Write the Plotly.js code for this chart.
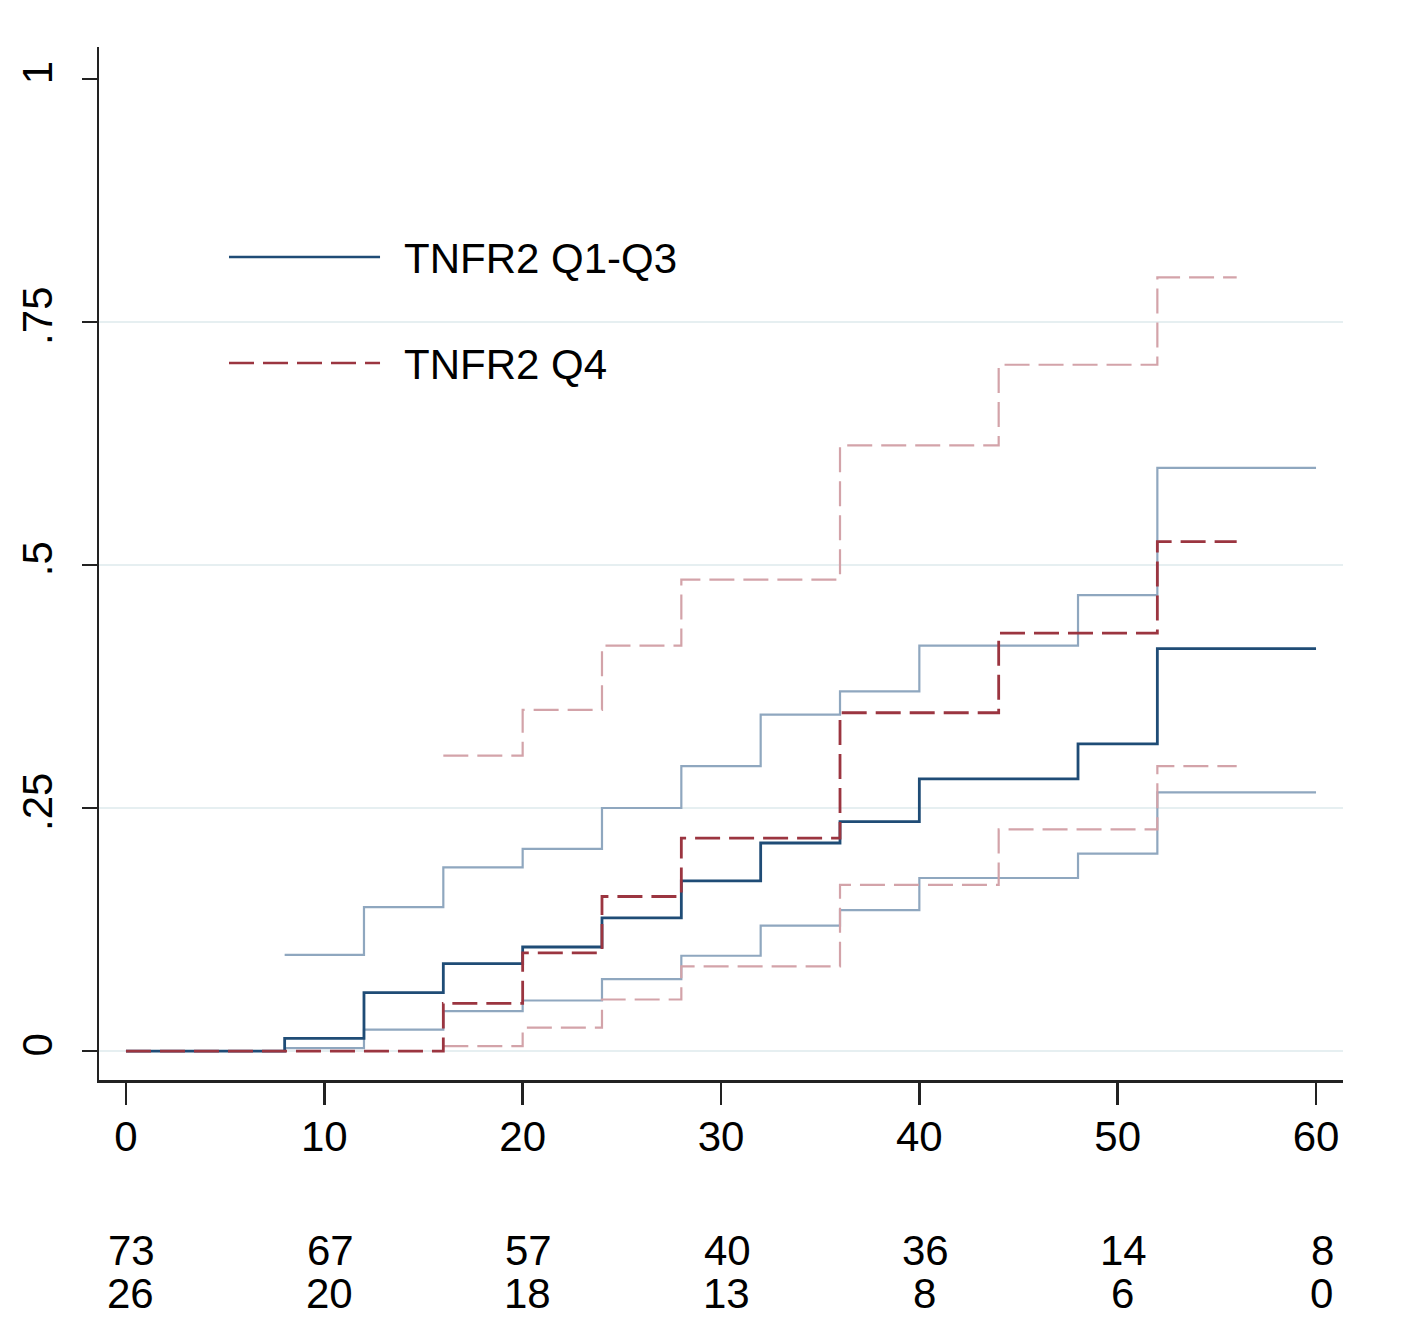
<!DOCTYPE html>
<html>
<head>
<meta charset="utf-8">
<script src="https://cdn.plot.ly/plotly-3.0.1.min.js"></script>
<style>
  html, body { margin: 0; padding: 0; background: #fff; }
  #chart { width: 1416px; height: 1319px; }
</style>
</head>
<body>
<div id="chart"></div>
<script>
// ---- Data ----
const q13Times = [0, 8, 12, 16, 20, 24, 28, 32, 36, 40, 48, 52, 60];
const q13Est   = [0, 0.013, 0.060, 0.090, 0.107, 0.137, 0.175, 0.214, 0.236, 0.280, 0.316, 0.414, 0.414];

const q13CiTimes = [8, 12, 16, 20, 24, 28, 32, 36, 40, 48, 52, 60];
const q13Upper   = [0.099, 0.148, 0.189, 0.208, 0.250, 0.293, 0.346, 0.370, 0.417, 0.469, 0.600, 0.600];
const q13Lower   = [0.003, 0.022, 0.041, 0.052, 0.074, 0.098, 0.129, 0.145, 0.178, 0.203, 0.266, 0.266];

const q4Times = [0, 16, 20, 24, 28, 36, 44, 52, 56];
const q4Est   = [0, 0.049, 0.101, 0.159, 0.219, 0.348, 0.430, 0.524, 0.524];

const q4CiTimes = [16, 20, 24, 28, 36, 44, 52, 56];
const q4Upper   = [0.304, 0.351, 0.417, 0.485, 0.623, 0.706, 0.796, 0.796];
const q4Lower   = [0.005, 0.024, 0.053, 0.087, 0.171, 0.228, 0.293, 0.293];

const xTickVals = [0, 10, 20, 30, 40, 50, 60];
const yTickVals = [0, 0.25, 0.5, 0.75, 1];
const yTickText = ['0', '.25', '.5', '.75', '1'];
const gridVals  = [0, 0.25, 0.5, 0.75];

const riskTimes = [0, 10, 20, 30, 40, 50, 60];
const riskQ13   = [73, 67, 57, 40, 36, 14, 8];
const riskQ4    = [26, 20, 18, 13, 8, 6, 0];

const seriesNames = ['TNFR2 Q1-Q3', 'TNFR2 Q4'];

// ---- Styles ----
const FONT = 'Liberation Sans, Arial, sans-serif';
const FS = 42;
const TXT = '#000';
const blueMain = '#1f4c76';
const blueCi   = '#8fa7bf';
const redMain  = '#9b3540';
const redCi    = '#d3a3a9';
const DASH = '25px,9px';

function step(x, y, color, width, dash) {
  return {
    x: x, y: y, type: 'scatter', mode: 'lines',
    line: { shape: 'hv', color: color, width: width, dash: dash || 'solid' },
    hoverinfo: 'skip', showlegend: false
  };
}

const traces = [
  step(q13CiTimes, q13Upper, blueCi, 2.2),
  step(q13CiTimes, q13Lower, blueCi, 2.2),
  step(q4CiTimes, q4Upper, redCi, 2.2, DASH),
  step(q4CiTimes, q4Lower, redCi, 2.2, DASH),
  step(q13Times, q13Est, blueMain, 2.8),
  step(q4Times, q4Est, redMain, 2.8, DASH)
];

const shapes = gridVals.map(v => ({
  type: 'line', xref: 'paper', yref: 'y', x0: 0, x1: 1, y0: v, y1: v,
  line: { color: '#e6eff1', width: 2 }, layer: 'below'
}));

// legend (drawn manually to match long sample lines)
const legY = [0.7967, 0.6941];
const legColors = [blueMain, redMain];
const legDash = ['solid', DASH];
legY.forEach((yy, i) => {
  shapes.push({
    type: 'line', xref: 'paper', yref: 'paper',
    x0: 0.1045, x1: 0.2259, y0: yy, y1: yy,
    line: { color: legColors[i], width: 2.6, dash: legDash[i] }
  });
});

const annotations = [];
seriesNames.forEach((name, i) => {
  annotations.push({
    xref: 'paper', yref: 'paper', x: 0.2435, y: legY[i] - 0.001,
    xanchor: 'left', yanchor: 'middle', showarrow: false,
    text: name, font: { family: FONT, size: FS, color: TXT }
  });
});
riskTimes.forEach((t, i) => {
  annotations.push({
    xref: 'x', yref: 'paper', x: t, y: -0.1655, xshift: 6,
    xanchor: 'center', yanchor: 'middle', showarrow: false,
    text: String(riskQ13[i]), font: { family: FONT, size: FS, color: TXT }
  });
  annotations.push({
    xref: 'x', yref: 'paper', x: t, y: -0.2062, xshift: 5,
    xanchor: 'center', yanchor: 'middle', showarrow: false,
    text: String(riskQ4[i]), font: { family: FONT, size: FS, color: TXT }
  });
});

const layout = {
  width: 1416, height: 1319,
  margin: { l: 99, r: 73, t: 47, b: 239, pad: 0 },
  paper_bgcolor: '#ffffff', plot_bgcolor: '#ffffff',
  showlegend: false,
  xaxis: {
    range: [-1.36, 61.36], tickvals: xTickVals, ticktext: xTickVals.map(String),
    showgrid: false, zeroline: false, showline: true, linecolor: '#222', linewidth: 2.5,
    ticks: 'outside', ticklen: 22, tickwidth: 2.5, tickcolor: '#222',
    tickfont: { family: FONT, size: FS, color: TXT }, ticklabelstandoff: -4
  },
  yaxis: {
    range: [-0.0298, 1.0329], tickvals: yTickVals, ticktext: yTickText, tickangle: -90,
    showgrid: false, zeroline: false, showline: true, linecolor: '#222', linewidth: 2.5,
    ticks: 'outside', ticklen: 15, tickwidth: 2.5, tickcolor: '#222',
    tickfont: { family: FONT, size: FS, color: TXT }, ticklabelstandoff: 13
  },
  shapes: shapes,
  annotations: annotations
};

Plotly.newPlot('chart', traces, layout, { staticPlot: true, displayModeBar: false });
</script>
</body>
</html>
